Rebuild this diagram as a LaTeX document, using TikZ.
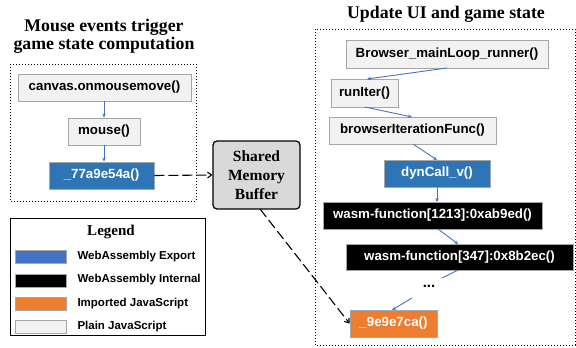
\documentclass[tikz,border=0pt]{standalone}
\usepackage{fontspec}
\setsansfont{Liberation Sans}
\newfontfamily\titlefont{Liberation Serif}
\usetikzlibrary{arrows.meta}
\definecolor{wasmblue}{HTML}{2E75B6}
\definecolor{legblue}{HTML}{4472C4}
\definecolor{jsorange}{HTML}{ED7D31}
\definecolor{jsgray}{HTML}{F2F2F2}
\definecolor{bordergray}{HTML}{A6A6A6}
\definecolor{smbgray}{HTML}{D9D9D9}
\definecolor{linkblue}{HTML}{4472C4}
\tikzset{
  fbox/.style={draw=bordergray, line width=0.8pt, inner sep=0pt, font=\sffamily\bfseries\fontsize{13.3}{15}\selectfont},
  plainjs/.style={fbox, fill=jsgray, text=black},
  wexport/.style={fbox, fill=wasmblue, text=white},
  winternal/.style={fbox, fill=black, text=white},
  importjs/.style={fbox, fill=jsorange, text=white},
  link/.style={draw=linkblue, line width=0.9pt, -{Stealth[length=4pt,width=3.5pt]}},
  plainlink/.style={draw=linkblue, line width=0.9pt},
  dashlink/.style={draw=black, line width=1.1pt, dash pattern=on 10pt off 4pt, -{Straight Barb[length=4pt,width=6pt]}},
  group/.style={draw=black, line width=1pt, dotted},
  title/.style={font=\titlefont\bfseries\fontsize{17.8}{19}\selectfont, align=center},
  legtext/.style={anchor=west, font=\sffamily\bfseries\fontsize{11.5}{13}\selectfont},
  swatch/.style={draw=bordergray, line width=0.6pt, minimum width=51pt, minimum height=13pt, inner sep=0pt},
}
\begin{document}
\begin{tikzpicture}[x=1pt, y=-1pt]
\useasboundingbox (0,0) rectangle (576,348);
% group frames
\draw[group] (10,64) rectangle (196,201);
\draw[group] (315,29) rectangle (575,345);
% titles
\node[title] (lt) at (104,36.5) {Mouse events trigger\\[-1pt]game state computation};
\node[title] (rt) at (446,14) {Update UI and game state};
% left boxes
\node[plainjs, minimum width=173pt, minimum height=27pt] (canvas) at (104.5,87.5) {canvas.onmousemove()};
\node[plainjs, minimum width=72pt, minimum height=27pt] (mouse) at (104,131.5) {mouse()};
\node[wexport, minimum width=105pt, minimum height=27pt] (e77) at (101.5,175.5) {\_77a9e54a()};
\draw[link] (canvas.south -| mouse.north) -- (mouse.north);
\draw[link] (mouse.south) -- (mouse.south |- e77.north);
% shared memory
\node[draw=black, line width=1.2pt, fill=smbgray, rounded corners=4pt, minimum width=87pt, minimum height=68pt, align=center, inner sep=0pt,
  font=\titlefont\bfseries\fontsize{15.5}{19}\selectfont] (smb) at (256.5,175) {Shared\\Memory\\Buffer};
% right boxes
\node[plainjs, minimum width=202pt, minimum height=28pt] (bml) at (447,54) {Browser\_mainLoop\_runner()};
\node[plainjs, minimum width=67pt, minimum height=28pt] (run) at (364.5,93) {runIter()};
\node[plainjs, minimum width=167pt, minimum height=27pt] (bif) at (412.5,130.5) {browserIterationFunc()};
\node[wexport, minimum width=106pt, minimum height=27pt] (dyn) at (437,173.5) {dynCall\_v()};
\node[winternal, minimum width=219pt, minimum height=27pt] (w1213) at (432.5,215.5) {wasm-function[1213]:0xab9ed()};
\node[winternal, minimum width=227pt, minimum height=26pt] (w347) at (459.5,257) {wasm-function[347]:0x8b2ec()};
\node[font=\sffamily\bfseries\fontsize{15}{15}\selectfont, inner sep=1pt] (dots) at (429,286) {...};
\node[importjs, minimum width=87pt, minimum height=27pt] (i9e) at (393.5,323.5) {\_9e9e7ca()};
% right links
\coordinate (a1) at (447,68);
\coordinate (a2) at (367,79);
\draw[link] (a1) -- (a2);
\draw[link] (365,107) -- (412,117);
\draw[link] (413,144) -- (437,160);
\draw[link] (437,187) -- (437,202);
\draw[link] (438,229) -- (458,244);
\draw[plainlink] (458,270) -- (442,278);
\draw[link] (412,298) -- (392,310);
% dashed
\draw[dashlink] (e77.east) -- (smb.west);
\draw[dashlink] (260,209) -- (i9e.west);
% legend
\draw[black, line width=0.8pt] (10,218) rectangle (205,335);
\node[font=\titlefont\bfseries\fontsize{15}{16}\selectfont] (legt) at (111,232) {Legend};
\node[swatch, fill=legblue] (s1) at (40.5,257) {};
\node[swatch, fill=black] (s2) at (40.5,280.5) {};
\node[swatch, fill=jsorange] (s3) at (40.5,304) {};
\node[swatch, fill=jsgray] (s4) at (40.5,327) {};
\node[legtext] (l1) at (74,257) {WebAssembly Export};
\node[legtext] (l2) at (74,280) {WebAssembly Internal};
\node[legtext] (l3) at (74,304) {Imported JavaScript};
\node[legtext] (l4) at (74,327) {Plain JavaScript};
\end{tikzpicture}
\end{document}
